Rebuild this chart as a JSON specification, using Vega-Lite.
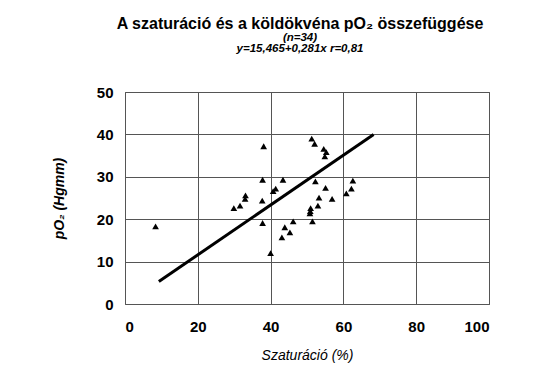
{
  "$schema": "https://vega.github.io/schema/vega-lite/v6.json",
  "autosize": "none",
  "width": 364,
  "height": 212,
  "padding": {"left": 125, "top": 92, "right": 50, "bottom": 68},
  "background": "white",
  "title": {
    "text": "A szaturáció és a köldökvéna pO₂ összefüggése",
    "subtitle": ["(n=34)", "y=15,465+0,281x r=0,81"],
    "font": "Liberation Sans",
    "fontSize": 16,
    "fontWeight": "bold",
    "color": "black",
    "subtitleFont": "Liberation Sans",
    "subtitleFontSize": 11.5,
    "subtitleFontStyle": "italic",
    "subtitleFontWeight": "bold",
    "subtitleColor": "black",
    "subtitleLineHeight": 11,
    "subtitlePadding": 0,
    "anchor": "middle",
    "dx": -7,
    "offset": 31
  },
  "config": {
    "view": {"stroke": "#555", "strokeWidth": 1},
    "axis": {
      "labelFont": "Liberation Sans",
      "labelFontSize": 15,
      "labelFontWeight": "bold",
      "labelColor": "black",
      "titleFont": "Liberation Sans",
      "titleColor": "black",
      "ticks": false,
      "domain": false,
      "gridColor": "#555",
      "gridOpacity": 1,
      "gridWidth": 1
    }
  },
  "layer": [
    {
      "data": {"values": [
        {"sat": 8.4, "po2": 18.3},
        {"sat": 38.1, "po2": 37.2},
        {"sat": 37.8, "po2": 29.3},
        {"sat": 43.4, "po2": 29.3},
        {"sat": 41.4, "po2": 27.2},
        {"sat": 40.7, "po2": 26.6},
        {"sat": 33.1, "po2": 25.6},
        {"sat": 33.0, "po2": 24.8},
        {"sat": 31.6, "po2": 23.2},
        {"sat": 29.9, "po2": 22.6},
        {"sat": 37.7, "po2": 24.4},
        {"sat": 37.8, "po2": 19.1},
        {"sat": 46.2, "po2": 19.5},
        {"sat": 43.9, "po2": 18.1},
        {"sat": 45.3, "po2": 16.9},
        {"sat": 43.1, "po2": 15.7},
        {"sat": 40.0, "po2": 12.0},
        {"sat": 51.5, "po2": 19.5},
        {"sat": 50.9, "po2": 21.9},
        {"sat": 51.0, "po2": 22.6},
        {"sat": 51.3, "po2": 39.0},
        {"sat": 52.1, "po2": 37.8},
        {"sat": 54.6, "po2": 36.6},
        {"sat": 55.3, "po2": 35.8},
        {"sat": 54.9, "po2": 34.8},
        {"sat": 52.3, "po2": 28.9},
        {"sat": 55.1, "po2": 27.4},
        {"sat": 53.3, "po2": 25.1},
        {"sat": 56.9, "po2": 24.8},
        {"sat": 53.0, "po2": 23.2},
        {"sat": 62.6, "po2": 29.1},
        {"sat": 62.2, "po2": 27.2},
        {"sat": 60.8, "po2": 26.1},
        {"sat": 50.8, "po2": 21.4}
      ]},
      "mark": {"type": "point", "shape": "triangle-up", "filled": true, "color": "black", "opacity": 1, "size": 45},
      "encoding": {
        "x": {
          "field": "sat", "type": "quantitative",
          "scale": {"domain": [0, 100], "nice": false},
          "axis": {"values": [0, 20, 40, 60, 80, 100], "title": "Szaturáció (%)", "titleFontSize": 14, "titleFontStyle": "italic", "titleFontWeight": "normal", "labelPadding": 15, "titlePadding": 14}
        },
        "y": {
          "field": "po2", "type": "quantitative",
          "scale": {"domain": [0, 50], "nice": false},
          "axis": {"values": [0, 10, 20, 30, 40, 50], "title": "pO₂ (Hgmm)", "titleFontSize": 14, "titleFontStyle": "italic", "titleFontWeight": "bold", "labelPadding": 12, "titlePadding": 30}
        }
      }
    },
    {
      "data": {"values": [
        {"sat": 9.3, "po2": 5.3},
        {"sat": 68.3, "po2": 40.0}
      ]},
      "mark": {"type": "line", "color": "black", "strokeWidth": 3},
      "encoding": {
        "x": {"field": "sat", "type": "quantitative"},
        "y": {"field": "po2", "type": "quantitative"}
      }
    }
  ]
}
